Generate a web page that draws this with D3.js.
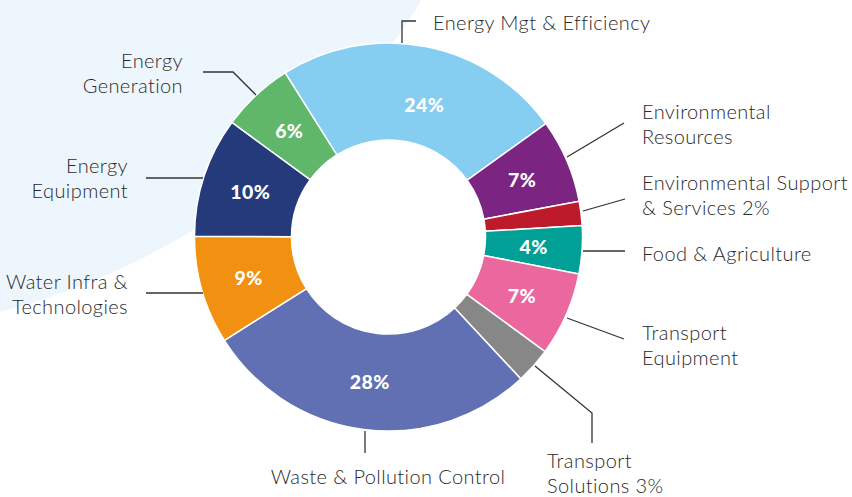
<!DOCTYPE html>
<html><head><meta charset="utf-8">
<script src="https://cdn.jsdelivr.net/npm/d3@7"></script>
<style>body{margin:0;background:#fff}svg{display:block}</style>
</head><body><svg id="c" width="852" height="497"></svg>
<script>
const categories = ["Energy Mgt & Efficiency","Environmental Resources","Environmental Support & Services","Food & Agriculture","Transport Equipment","Transport Solutions","Waste & Pollution Control","Water Infra & Technologies","Energy Equipment","Energy Generation"];
const values = [24,7,2,4,7,3,28,9,10,6];
const colors = ["#86cdf2","#7c2482","#bd1b2b","#00a096","#ea689e","#878787","#6170b3","#f19011","#253a7b","#60b76a"];
const labelLines = [["Energy Mgt & Efficiency"],["Environmental","Resources"],["Environmental Support","& Services 2%"],["Food & Agriculture"],["Transport","Equipment"],["Transport","Solutions 3%"],["Waste & Pollution Control"],["Water Infra &","Technologies"],["Energy","Equipment"],["Energy","Generation"]];
const showPct = [true,true,false,true,true,false,true,true,true,true];

// layout (annotation positions)
const labelPos = [
  {x:433,y:30,a:"start"},{x:642,y:119,a:"start"},{x:642,y:190,a:"start"},{x:642,y:261,a:"start"},
  {x:642,y:340,a:"start"},{x:547,y:468,a:"start"},{x:388,y:484,a:"middle"},{x:128,y:289,a:"end"},
  {x:128,y:173,a:"end"},{x:183,y:68,a:"end"}];
const leaders = [
  [[402,43],[402,21],[416,21]],[[567,157],[624,123]],[[583,211],[625,199]],[[583,251],[625,251]],
  [[567,318],[624,339]],[[535,366],[592,413],[592,443]],[[365,431],[365,453]],[[203,293],[146,293]],
  [[203,178],[146,178]],[[256,95],[233,72],[203,72]]];
const pctOffset = [[8,10],[0,0],[0,0],[0,0],[0,0],[0,0],[0,0],[0,0],[0,0],[0,0]];

const svg = d3.select("#c");
const cx = 388.5, cy = 237, R = 194, r0 = 97;

svg.append("circle").attr("cx",-170).attr("cy",-359).attr("r",692).attr("fill","#eef6fd");

const start = -32.2*Math.PI/180;
const pie = d3.pie().sort(null).value(d=>d).startAngle(start).endAngle(start+2*Math.PI);
const arcs = pie(values);
const arc = d3.arc().innerRadius(r0).outerRadius(R);
const labelArc = d3.arc().innerRadius(145.5).outerRadius(145.5);

const g = svg.append("g").attr("transform",`translate(${cx},${cy})`);
g.selectAll("path").data(arcs).join("path")
  .attr("d",arc).attr("fill",(d,i)=>colors[i])
  .attr("stroke","#fff").attr("stroke-width",1.5);

g.selectAll("text.pct").data(arcs).join("text").attr("class","pct")
  .filter((d,i)=>showPct[i])
  .attr("x",(d,i)=>labelArc.centroid(d)[0]+pctOffset[i][0])
  .attr("y",(d,i)=>labelArc.centroid(d)[1]+pctOffset[i][1])
  .attr("text-anchor","middle").attr("dominant-baseline","central")
  .attr("fill","#fff").attr("font-family","Lato, sans-serif").attr("font-weight",900).attr("font-size",19.5)
  .attr("letter-spacing",0.4)
  .text(d=>d.value+"%");

const line = d3.line();
svg.append("g").selectAll("path").data(leaders).join("path")
  .attr("d",d=>line(d)).attr("fill","none").attr("stroke","#333").attr("stroke-width",1.3);

const lg = svg.append("g").attr("font-family","Lato, sans-serif").attr("font-size",20).attr("font-weight",300)
  .attr("letter-spacing",0.4).attr("fill","#2a2a2a");
labelLines.forEach((lines,i)=>{
  const p = labelPos[i];
  const t = lg.append("text").attr("text-anchor",p.a);
  lines.forEach((s,j)=>t.append("tspan").attr("x",p.x).attr("y",p.y+j*25).text(s));
});
</script></body></html>
